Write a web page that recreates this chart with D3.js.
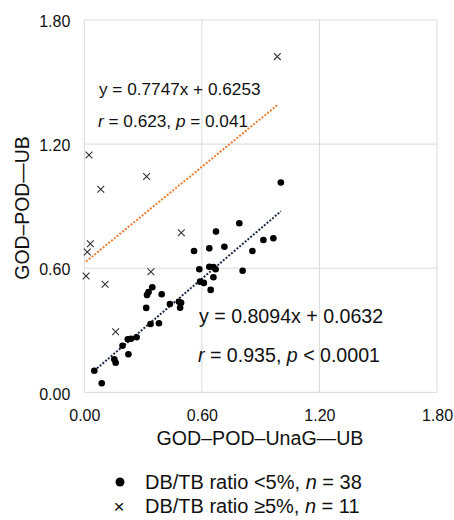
<!DOCTYPE html>
<html>
<head>
<meta charset="utf-8">
<script src="https://cdn.jsdelivr.net/npm/d3@7"></script>
<style>
  html, body { margin: 0; padding: 0; background: #fff; }
  svg { display: block; font-family: "Liberation Sans", Arial, sans-serif; }
</style>
</head>
<body>
<svg id="chart" width="454" height="520"></svg>
<script>
// ---- data ----
const xTicks = [0, 0.6, 1.2, 1.8];
const yTicks = [0, 0.6, 1.2, 1.8];

// DB/TB ratio <5% (dots), n = 38
const dotX = [1.003, 0.791, 0.672, 0.965, 0.914, 0.560, 0.638, 0.715, 0.858, 0.587,
              0.638, 0.659, 0.670, 0.808, 0.659, 0.591, 0.610, 0.645, 0.347, 0.320,
              0.328, 0.395, 0.316, 0.437, 0.483, 0.494, 0.489, 0.338, 0.381, 0.267,
              0.238, 0.222, 0.195, 0.225, 0.153, 0.160, 0.051, 0.089];
const dotY = [1.014, 0.817, 0.777, 0.745, 0.736, 0.683, 0.696, 0.704, 0.683, 0.595,
              0.607, 0.606, 0.595, 0.588, 0.556, 0.535, 0.529, 0.495, 0.508, 0.470,
              0.485, 0.474, 0.408, 0.427, 0.438, 0.433, 0.409, 0.330, 0.334, 0.266,
              0.259, 0.256, 0.225, 0.184, 0.160, 0.143, 0.104, 0.044];

// DB/TB ratio >=5% (crosses), n = 11
const crossX = [0.985, 0.024, 0.318, 0.084, 0.495, 0.031, 0.015, 0.009, 0.340, 0.106, 0.160];
const crossY = [1.623, 1.147, 1.043, 0.982, 0.771, 0.718, 0.678, 0.562, 0.583, 0.522, 0.293];

// regression coefficients [slope, intercept]
const fitDots = [0.8094, 0.0632];
const fitCross = [0.7747, 0.6253];

const eqDots = ["y = 0.8094x + 0.0632", "0.935", "< 0.0001"];
const eqCross = ["y = 0.7747x + 0.6253", "0.623", "= 0.041"];

const xTitle = "GOD–POD–UnaG—UB";
const yTitle = "GOD–POD—UB";
const legendLabels = ["DB/TB ratio <5%, ", "DB/TB ratio ≥5%, "];
const legendN = ["38", "11"];

// ---- chart ----
const svg = d3.select("#chart");
const x = d3.scaleLinear().domain([0, 1.8]).range([84.3, 437]);
const y = d3.scaleLinear().domain([0, 1.8]).range([392.3, 20]);
const gridColor = "#d9d9d9";
const textColor = "#111";

// grid
svg.append("g").selectAll("line.v").data(xTicks).join("line")
  .attr("x1", d => x(d)).attr("x2", d => x(d))
  .attr("y1", y(0)).attr("y2", y(1.8))
  .attr("stroke", gridColor).attr("stroke-width", 1);
svg.append("g").selectAll("line.h").data(yTicks).join("line")
  .attr("x1", x(0)).attr("x2", x(1.8))
  .attr("y1", d => y(d)).attr("y2", d => y(d))
  .attr("stroke", gridColor).attr("stroke-width", 1);

// axes (labels only)
const xAxis = svg.append("g").attr("transform", `translate(0,${y(0)})`)
  .call(d3.axisBottom(x).tickValues(xTicks).tickFormat(d3.format(".2f")).tickSize(0).tickPadding(17));
const yAxis = svg.append("g").attr("transform", `translate(${x(0)},0)`)
  .call(d3.axisLeft(y).tickValues(yTicks).tickFormat(d3.format(".2f")).tickSize(0).tickPadding(14));
[xAxis, yAxis].forEach(g => {
  g.select(".domain").remove();
  g.selectAll("text").attr("font-size", 16).attr("fill", textColor)
    .attr("font-family", "'Liberation Sans', Arial, sans-serif");
});
yAxis.selectAll("text").attr("dy", "0.42em");

// trend lines
function trend(xs, fit, color) {
  const [x0, x1] = d3.extent(xs);
  const line = d3.line().x(d => x(d)).y(d => y(fit[0] * d + fit[1]));
  svg.append("path").datum([x0, x1]).attr("d", line)
    .attr("fill", "none").attr("stroke", color).attr("stroke-width", 2)
    .attr("stroke-dasharray", "2,1.6");
}
trend(crossX, fitCross, "#ED7D31");
trend(dotX, fitDots, "#1c2a45");

// dots
svg.append("g").selectAll("circle").data(dotX.map((d, i) => [d, dotY[i]])).join("circle")
  .attr("cx", d => x(d[0])).attr("cy", d => y(d[1])).attr("r", 3.3)
  .attr("fill", "#000");

// crosses
const cs = 3.4;
svg.append("g").selectAll("path").data(crossX.map((d, i) => [d, crossY[i]])).join("path")
  .attr("d", d => {
    const cx = x(d[0]), cy = y(d[1]);
    return `M${cx - cs},${cy - cs}L${cx + cs},${cy + cs}M${cx - cs},${cy + cs}L${cx + cs},${cy - cs}`;
  })
  .attr("stroke", "#333").attr("stroke-width", 1.1).attr("fill", "none");

// annotations
function eq(lines, x0, y0, y1, size) {
  svg.append("text").attr("x", x0).attr("y", y0).attr("font-size", size).attr("fill", textColor)
    .text(lines[0]);
  const t = svg.append("text").attr("x", x0 - 1).attr("y", y1).attr("font-size", size).attr("fill", textColor);
  t.append("tspan").attr("font-style", "italic").text("r");
  t.append("tspan").text(" = " + lines[1] + ", ");
  t.append("tspan").attr("font-style", "italic").text("p");
  t.append("tspan").text(" " + lines[2]);
}
eq(eqCross, 99, 95, 127, 17.2);
eq(eqDots, 199, 323, 362, 19.6);

// axis titles
svg.append("text").attr("x", 260).attr("y", 445).attr("text-anchor", "middle")
  .attr("font-size", 19.6).attr("fill", textColor).text(xTitle);
svg.append("text").attr("transform", "translate(29,208) rotate(-90)").attr("text-anchor", "middle")
  .attr("font-size", 19.4).attr("fill", textColor).text(yTitle);

// legend
const legY = [489, 513];
svg.append("circle").attr("cx", 120).attr("cy", 482).attr("r", 4.5).attr("fill", "#000");
svg.append("text").attr("x", 119).attr("y", 513).attr("text-anchor", "middle")
  .attr("font-size", 19).attr("fill", textColor).text("×");
legendLabels.forEach((lab, i) => {
  const t = svg.append("text").attr("x", 145).attr("y", legY[i]).attr("font-size", 20).attr("fill", textColor);
  t.append("tspan").text(lab);
  t.append("tspan").attr("font-style", "italic").text("n");
  t.append("tspan").text(" = " + legendN[i]);
});
</script>
</body>
</html>
